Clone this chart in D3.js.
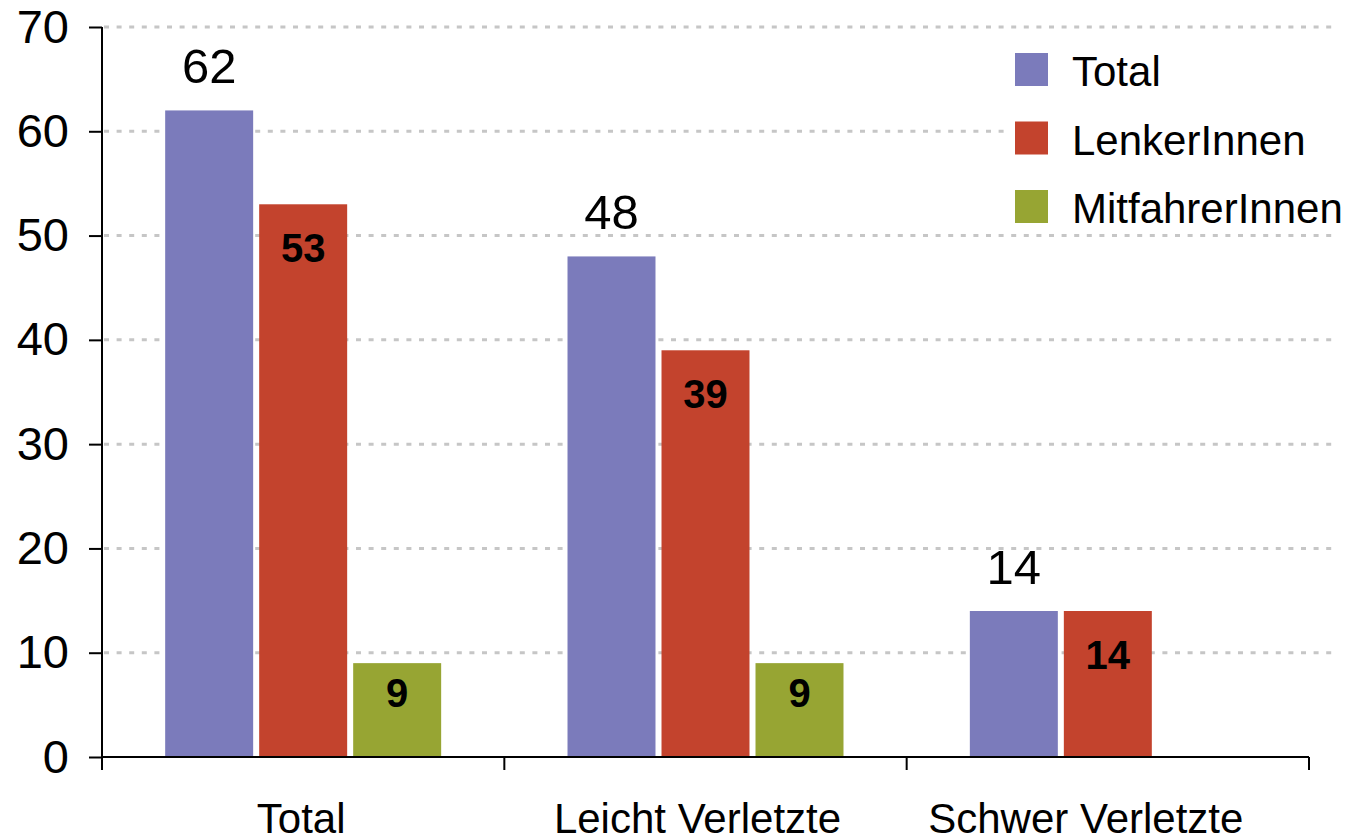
<html>
<head>
<script src="https://d3js.org/d3.v7.min.js"></script>
<style>
body { margin: 0; background: #fff; }
svg { display: block; font-family: 'Liberation Sans', Arial, sans-serif; }
</style>
</head>
<body>
<svg></svg>
<script>

// Chart data
var categories = ["Total", "Leicht Verletzte", "Schwer Verletzte"];
var series = ["Total", "LenkerInnen", "MitfahrerInnen"];
var totalValues = [62, 48, 14];
var lenkerValues = [53, 39, 14];
var mitfahrerValues = [9, 9, null];
var colors = ["#7b7bbb", "#c3432d", "#97a533"];
var yTicks = [0, 10, 20, 30, 40, 50, 60, 70];

var width = 1351;
var height = 839;

var svg = d3.select("svg").attr("width", width).attr("height", height);

var yScale = d3.scaleLinear()
	.domain([0, 70])
	.range([757, 27]);

var xScale = d3.scaleBand()
	.domain(categories)
	.range([102, 1309]);

var band = xScale.bandwidth();
var xSub = d3.scaleBand()
	.domain(series)
	.range([band / 2 - 141, band / 2 + 141])
	.paddingInner(0.064)
	.paddingOuter(0.032);

// Gridlines
svg.append("g").selectAll("line.grid")
	.data(yTicks.filter(function (d) { return d > 0; }))
	.enter().append("line")
	.attr("class", "grid")
	.attr("x1", 104)
	.attr("x2", 1332)
	.attr("y1", function (d) { return yScale(d); })
	.attr("y2", function (d) { return yScale(d); })
	.style("stroke", "#c6c6c6")
	.style("stroke-width", 3)
	.style("stroke-dasharray", "5,7.6");

// Build rows: one per bar
var allValues = [totalValues, lenkerValues, mitfahrerValues];
var rows = [];
categories.forEach(function (c, i) {
	series.forEach(function (s, j) {
		if (allValues[j][i] != null) {
			rows.push({ cat: c, series: s, idx: j, value: allValues[j][i] });
		}
	});
});

svg.append("g").selectAll("rect.bar")
	.data(rows)
	.enter().append("rect")
	.attr("class", "bar")
	.attr("x", function (d) { return xScale(d.cat) + xSub(d.series); })
	.attr("y", function (d) { return yScale(d.value); })
	.attr("width", xSub.bandwidth())
	.attr("height", function (d) { return yScale(0) - yScale(d.value); })
	.style("fill", function (d) { return colors[d.idx]; });

// Value labels: Total above the bar, others bold inside
svg.append("g").selectAll("text.val")
	.data(rows)
	.enter().append("text")
	.attr("class", "val")
	.attr("x", function (d) { return xScale(d.cat) + xSub(d.series) + xSub.bandwidth() / 2; })
	.attr("y", function (d) {
		var top = yScale(d.value);
		if (d.idx === 0) { return top - 27; }
		var h = yScale(0) - top;
		return top + Math.min(58, h * 0.47);
	})
	.attr("text-anchor", "middle")
	.style("font-size", function (d) { return d.idx === 0 ? "49px" : "40px"; })
	.style("font-weight", function (d) { return d.idx === 0 ? "normal" : "bold"; })
	.style("fill", "#000")
	.text(function (d) { return d.value; });

// Axes
var yAxis = d3.axisLeft(yScale).tickValues(yTicks).tickSize(13).tickPadding(20);
var gy = svg.append("g").attr("transform", "translate(102,0)").call(yAxis);
gy.select(".domain").attr("d", "M0," + yScale(70) + "V770");
gy.selectAll("line").style("stroke", "#000").style("stroke-width", 2);
gy.select(".domain").style("stroke", "#000").style("stroke-width", 2);
gy.selectAll("text").style("font-size", "47px").style("font-family", "'Liberation Sans', Arial, sans-serif").style("fill", "#000");

var xAxisG = svg.append("g").attr("transform", "translate(0," + yScale(0) + ")");
xAxisG.append("line")
	.attr("x1", 102).attr("x2", 1309)
	.style("stroke", "#000").style("stroke-width", 2);
var edges = categories.map(function (c) { return xScale(c); }).concat([xScale.range()[1]]);
xAxisG.selectAll("line.tick")
	.data(edges)
	.enter().append("line")
	.attr("class", "tick")
	.attr("x1", function (d) { return d; })
	.attr("x2", function (d) { return d; })
	.attr("y1", 0).attr("y2", 13)
	.style("stroke", "#000").style("stroke-width", 2);
var labelShift = [-2, -8, -22];
xAxisG.selectAll("text.cat")
	.data(categories)
	.enter().append("text")
	.attr("class", "cat")
	.attr("x", function (d, i) { return xScale(d) + band / 2 + labelShift[i]; })
	.attr("y", 76)
	.attr("text-anchor", "middle")
	.style("font-size", "42px")
	.text(function (d) { return d; });

// Legend with white background
var legend = svg.append("g").attr("transform", "translate(1010,40)");
legend.append("rect")
	.attr("x", 0).attr("y", 0)
	.attr("width", 341).attr("height", 193)
	.style("fill", "#fff");
var items = legend.selectAll("g.item")
	.data(series)
	.enter().append("g")
	.attr("class", "item")
	.attr("transform", function (d, i) { return "translate(0," + (i * 68.5) + ")"; });
items.append("rect")
	.attr("x", 5).attr("y", 13)
	.attr("width", 33).attr("height", 33)
	.style("fill", function (d, i) { return colors[i]; });
items.append("text")
	.attr("x", 62).attr("y", 46)
	.style("font-size", "42px")
	.text(function (d) { return d; });

</script>
</body>
</html>
